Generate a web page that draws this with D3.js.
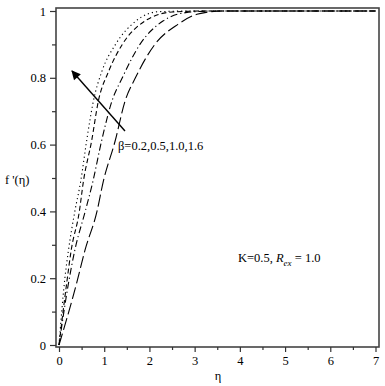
<!DOCTYPE html>
<html>
<head>
<meta charset="utf-8">
<script src="https://cdn.jsdelivr.net/npm/d3@7"></script>
<style>
  body { margin: 0; background: #fff; }
  text { font-family: "Liberation Serif", "Times New Roman", serif; }
</style>
</head>
<body>
<div class="canvas"></div>
<script>
// values
const betaLabels = ['1.6', '1.0', '0.5', '0.2'];
const eta16 = [0, 0.13, 0.21, 0.35, 0.48, 0.61, 0.76, 0.95, 1.25, 1.7, 2.2, 3, 7];
const f16   = [0, 0.20, 0.284, 0.40, 0.49, 0.61, 0.73, 0.82, 0.90, 0.97, 0.998, 1, 1];
const eta10 = [0, 0.17, 0.27, 0.45, 0.54, 0.72, 0.87, 1.1, 1.4, 1.9, 2.5, 3.2, 7];
const f10   = [0, 0.185, 0.284, 0.40, 0.49, 0.61, 0.73, 0.82, 0.90, 0.97, 0.997, 1, 1];
const eta05 = [0, 0.21, 0.35, 0.58, 0.75, 0.94, 1.17, 1.4, 1.79, 2.3, 2.8, 3.4, 7];
const f05   = [0, 0.185, 0.284, 0.40, 0.49, 0.61, 0.73, 0.80, 0.90, 0.97, 0.995, 1, 1];
const eta02 = [0, 0.39, 0.575, 0.84, 0.98, 1.24, 1.46, 1.69, 2.12, 2.63, 3.05, 3.6, 7];
const f02   = [0, 0.185, 0.284, 0.40, 0.49, 0.61, 0.73, 0.80, 0.90, 0.96, 0.99, 1, 1];
const xTicks = [0, 1, 2, 3, 4, 5, 6, 7];
const yTicks = [0, 0.2, 0.4, 0.6, 0.8, 1];

const series = [
  {eta: eta16, f: f16, dash: '1.2,3'},
  {eta: eta10, f: f10, dash: '5,3'},
  {eta: eta05, f: f05, dash: '7,3,1.2,3'},
  {eta: eta02, f: f02, dash: '12,4'}
];

const svg = d3.select('.canvas')
  .append('svg')
    .attr('width', 385)
    .attr('height', 386);

// frame box and scales
const frame = {left: 56, right: 379, top: 8, bottom: 347};
const x = d3.scaleLinear().domain([0, 7]).range([59, 375.5]);
const y = d3.scaleLinear().domain([0, 1]).range([345, 11]);

svg.append('rect')
  .attr('x', frame.left)
  .attr('y', frame.top)
  .attr('width', frame.right - frame.left)
  .attr('height', frame.bottom - frame.top)
  .attr('fill', 'none')
  .attr('stroke', '#444')
  .attr('stroke-width', 1.6);

// x axis: major ticks labelled, minor at halves
const xAxis = d3.axisBottom(x).tickValues(xTicks).tickFormat(d3.format('d')).tickSize(5).tickPadding(4);
const xMinor = d3.axisBottom(x).tickValues(d3.range(0.5, 7, 1)).tickFormat('').tickSize(3);
const xg = svg.append('g').attr('transform', `translate(0, ${frame.bottom})`).call(xAxis);
const xmg = svg.append('g').attr('transform', `translate(0, ${frame.bottom})`).call(xMinor);

const yAxis = d3.axisLeft(y).tickValues(yTicks).tickFormat(d => d === 0 || d === 1 ? d : d.toFixed(1)).tickSize(6).tickPadding(4);
const yMinor = d3.axisLeft(y).tickValues(d3.range(0.1, 1, 0.2)).tickFormat('').tickSize(4);
const yg = svg.append('g').attr('transform', `translate(${frame.left}, 0)`).call(yAxis);
const ymg = svg.append('g').attr('transform', `translate(${frame.left}, 0)`).call(yMinor);

[xg, xmg, yg, ymg].forEach(g => {
  g.attr('font-family', null);
  g.select('.domain').remove();
  g.selectAll('line').attr('stroke', '#333').attr('stroke-width', 1.2);
  g.selectAll('text').attr('fill', '#000').style('font-size', '12.5px');
});

// curves
const line = d3.line()
  .x(d => x(d[0]))
  .y(d => y(d[1]))
  .curve(d3.curveMonotoneX);

svg.append('g').selectAll('path')
  .data(series)
  .enter()
  .append('path')
    .attr('d', s => line(s.eta.map((e, i) => [e, s.f[i]])))
    .attr('fill', 'none')
    .attr('stroke', '#000')
    .attr('stroke-width', 1.1)
    .attr('stroke-dasharray', s => s.dash);

// arrow annotation
svg.append('defs').append('marker')
  .attr('id', 'head')
  .attr('viewBox', '0 0 10 10')
  .attr('refX', 9).attr('refY', 5)
  .attr('markerWidth', 7.5).attr('markerHeight', 6.5)
  .attr('orient', 'auto')
  .append('path').attr('d', 'M0,0 L10,5 L0,10 z').attr('fill', '#000');

svg.append('line')
  .attr('x1', 125).attr('y1', 131)
  .attr('x2', 72).attr('y2', 71)
  .attr('stroke', '#000')
  .attr('stroke-width', 1.4)
  .attr('marker-end', 'url(#head)');

svg.append('text')
  .attr('x', 118).attr('y', 150)
  .style('font-size', '12.5px')
  .text('β=' + betaLabels.slice().reverse().join(','));

const kText = svg.append('text')
  .attr('x', 238).attr('y', 262)
  .style('font-size', '12.5px');
kText.append('tspan').text('K=0.5, ');
kText.append('tspan').attr('font-style', 'italic').text('R');
kText.append('tspan').attr('font-style', 'italic').attr('dy', 4).style('font-size', '9px').text('ex');
kText.append('tspan').attr('dy', -4).text(' = 1.0');

// axis titles
svg.append('text')
  .attr('x', 5).attr('y', 184)
  .style('font-size', '12.5px')
  .text("f '(η)");

svg.append('text')
  .attr('x', 218).attr('y', 380)
  .attr('text-anchor', 'middle')
  .style('font-size', '12.5px')
  .text('η');
</script>
</body>
</html>
